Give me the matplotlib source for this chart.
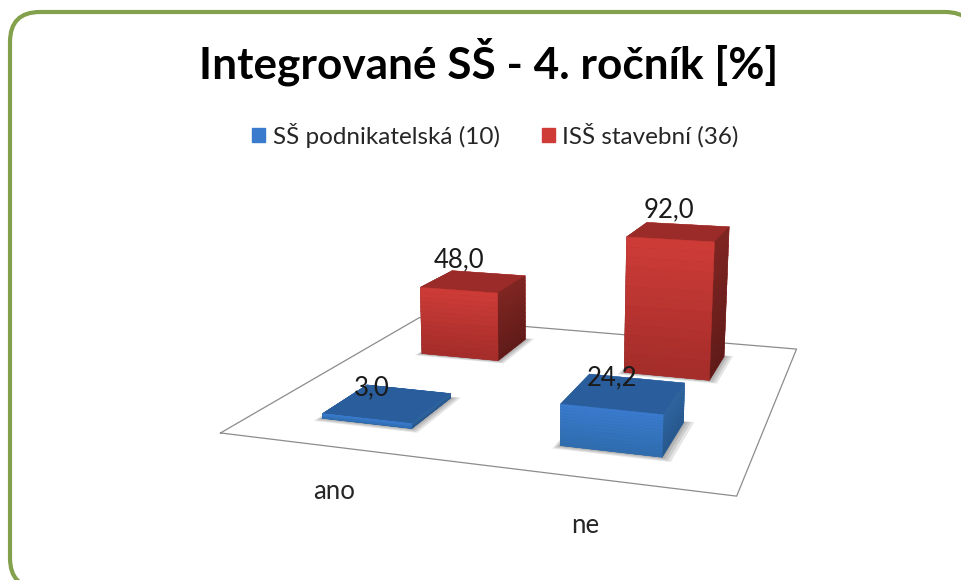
import numpy as np
import matplotlib
matplotlib.use('Agg')
import matplotlib.pyplot as plt
from matplotlib.colors import to_rgb
from matplotlib.patches import FancyBboxPatch, Patch
from matplotlib.transforms import IdentityTransform

categories = ['ano', 'ne']
series_names = ['SŠ podnikatelská (10)', 'ISŠ stavební (36)']
podnikatelska = [3.0, 24.2]
stavebni = [48.0, 92.0]

plt.rcParams['font.family'] = ['Lato', 'DejaVu Sans']
W, H = 961, 580


def mix(a, b, t):
    return tuple(np.array(to_rgb(a)) * (1 - t) + np.array(to_rgb(b)) * t)


fig = plt.figure(figsize=(W / 100, H / 100), dpi=100)

# outer rounded frame, runs off the right and bottom of the picture
frame = FancyBboxPatch((10, -8), 965, 576, boxstyle='round,pad=0,rounding_size=30',
                       transform=IdentityTransform(), fc='white', ec='#83a04c', lw=3, zorder=0)
fig.add_artist(frame)

# size worked out from a fit of the floor corners
size = 859.1
cx, cy = 529.6, 257.5
ax = fig.add_axes([(cx - size / 2) / W, (cy - size / 2) / H, size / W, size / H], projection='3d')
ax.patch.set_alpha(0)
ax.set_xlim(0, 2)
ax.set_ylim(0, 2)
ax.set_zlim(0, 100)
ax.set_xticks([])
ax.set_yticks([])
ax.set_zticks([])
ax.set_axis_off()
aspect = (1, 0.95, 0.34)
ax.set_box_aspect(aspect, zoom=np.linalg.norm(aspect) / 1.9057)
ax.set_proj_type('persp', focal_length=0.25)
ax.view_init(elev=14, azim=-72)
ax.computed_zorder = False

ax.plot([0, 2, 2, 0, 0], [0, 0, 2, 2, 0], [0, 0, 0, 0, 0], color='#8c8c8c', lw=0.9, zorder=1)

bar_w = 0.39
bar_d = 0.42
series_y = [0.5, 1.54]
styles = [
    dict(front=('#3a7bce', '#2f6cae'), side=('#2f659f', '#27578c'), top='#2a5d9b', label_dz=1),
    dict(front=('#cf3c37', '#a32c2a'), side=('#7f2522', '#5f1b19'), top='#9b2b28', label_dz=6),
]
n_slices = 14

xs, ys, zs, dzs, cols = [], [], [], [], []
for s, vals in enumerate([podnikatelska, stavebni]):
    st = styles[s]
    for c, v in enumerate(vals):
        # soft shadow on the floor
        for grow in [0.04, 0.028, 0.016, 0.006]:
            ax.bar3d(c + 0.49 - bar_w / 2 - grow * 0.5, series_y[s] - bar_d / 2 - grow, 0, bar_w + grow * 1.5, bar_d + grow * 1.5,
                     0.01, color=(0, 0, 0, 0.05), shade=False, edgecolor='none', zorder=1.5)
        edges = np.linspace(0, v, n_slices + 1)
        for i in range(n_slices):
            t = 1 - (i + 0.5) / n_slices
            fr = mix(st['front'][0], st['front'][1], t)
            sd = mix(st['side'][0], st['side'][1], t)
            xs.append(c + 0.49 - bar_w / 2)
            ys.append(series_y[s] - bar_d / 2)
            zs.append(edges[i])
            dzs.append(edges[i + 1] - edges[i])
            # order in bar3d: -z, +z, -y, +y, -x, +x
            cols += [st['top'], st['top'], fr, fr, sd, sd]

ax.bar3d(xs, ys, zs, bar_w, bar_d, dzs, color=cols, shade=False, edgecolor=cols, linewidth=0.3, zorder=2)

for s, vals in enumerate([podnikatelska, stavebni]):
    for c, v in enumerate(vals):
        ax.text(0.415 + 1.025 * c, series_y[s], v + styles[s]['label_dz'], f'{v:.1f}'.replace('.', ','), ha='center',
                va='bottom', fontsize=18.5, color='#1a1a1a', zorder=5)

for c, name in enumerate(categories):
    ax.text(0.69 + 0.89 * c, -0.40, 0, name, ha='center', va='center', fontsize=18.5, color='#262626', zorder=5)

fig.text(489 / W, 1 - 62 / H, 'Integrované SŠ - 4. ročník [%]', ha='center', va='center',
         fontsize=31.8, fontweight='bold', color='black')

handles = [Patch(color=styles[0]['front'][0]), Patch(color=styles[1]['front'][0])]
fig.legend(handles, series_names, loc='center', bbox_to_anchor=(495.5 / W, 1 - 135 / H), ncol=2, frameon=False,
           fontsize=17.5, handlelength=0.55, handleheight=0.55, handletextpad=0.29, columnspacing=1.75,
           labelcolor='#262626')

fig.savefig('out.png', dpi=100)
